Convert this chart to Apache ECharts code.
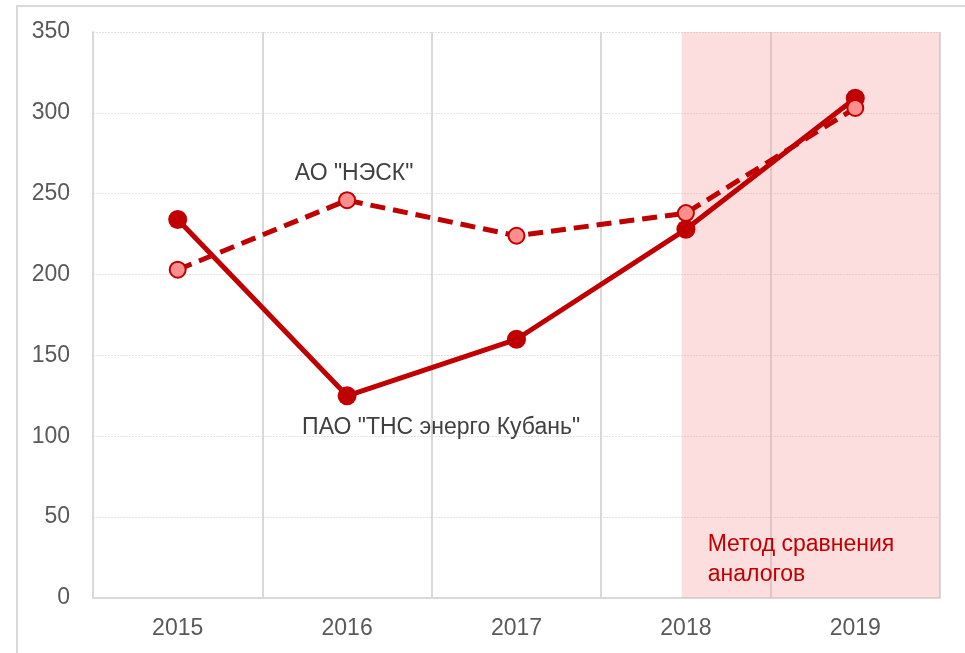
<!DOCTYPE html>
<html>
<head>
<meta charset="utf-8">
<script src="https://cdn.jsdelivr.net/npm/echarts@6/dist/echarts.min.js"></script>
<style>
  html, body {margin: 0; padding: 0; background: #fff;}
  #chart {width: 965px; height: 653px;}
</style>
</head>
<body>
<div id="chart"></div>
<script>
// 数据
const years = ['2015', '2016', '2017', '2018', '2019'];
const tnsValues = [234, 125, 160, 228, 309];   // ПАО "ТНС энерго Кубань"
const neskValues = [203, 246, 224, 238, 303];  // АО "НЭСК"
const yTicks = [0, 50, 100, 150, 200, 250, 300, 350];
// 阴影区 (value 轴上的范围, 类目中心为 0..4)
const analogRange = [2.975, 4.5];
const analogText = 'Метод сравнения\nаналогов';

const red = '#C00000';
const font = 'Liberation Sans';

let chartDom = document.getElementById('chart');
let myChart = echarts.init(chartDom);

let option = {
  animation: false,
  textStyle: {fontFamily: font},
  grid: {left: 93, right: 25, top: 32, bottom: 55},
  graphic: [{
    type: 'rect',
    shape: {x: 17, y: 6, width: 980, height: 680},
    style: {fill: 'none', stroke: '#D9D9D9', lineWidth: 2},
    silent: true
  }],
  xAxis: [
    {
      type: 'category',
      data: years,
      boundaryGap: true,
      axisLine: {show: true, lineStyle: {color: '#D9D9D9', width: 2}},
      axisTick: {show: false},
      axisLabel: {color: '#595959', fontSize: 23, margin: 19},
      splitLine: {show: true, lineStyle: {color: '#D9D9D9', width: 2}}
    },
    {
      type: 'value',
      min: -0.5,
      max: 4.5,
      show: false
    }
  ],
  yAxis: {
    type: 'value',
    min: yTicks[0],
    max: yTicks[yTicks.length - 1],
    interval: 50,
    axisLine: {show: true, onZero: false, lineStyle: {color: '#D9D9D9', width: 2}},
    axisTick: {show: false},
    axisLabel: {color: '#595959', fontSize: 23, margin: 23},
    splitLine: {show: true, lineStyle: {color: '#E3E3E3', width: 1, type: [2, 1]}}
  },
  series: [
    {
      name: 'ПАО "ТНС энерго Кубань"',
      type: 'line',
      z: 3,
      data: tnsValues.map((v, i) => i === 1 ? {
        value: v,
        label: {
          show: true,
          formatter: 'ПАО "ТНС энерго Кубань"',
          position: 'bottom',
          offset: [94, 6],
          color: '#404040',
          fontSize: 23
        }
      } : v),
      lineStyle: {color: red, width: 5},
      itemStyle: {color: red, borderColor: red, borderWidth: 0},
      symbol: 'circle',
      symbolSize: 19
    },
    {
      name: 'АО "НЭСК"',
      type: 'line',
      z: 4,
      data: neskValues.map((v, i) => i === 1 ? {
        value: v,
        label: {
          show: true,
          formatter: 'АО "НЭСК"',
          position: 'top',
          offset: [7, -1],
          color: '#404040',
          fontSize: 23
        }
      } : v),
      lineStyle: {color: red, width: 5, type: [15, 8]},
      itemStyle: {color: '#FF8F8F', borderColor: red, borderWidth: 2},
      symbol: 'circle',
      symbolSize: 16
    },
    {
      type: 'line',
      xAxisIndex: 1,
      z: 10,
      data: [],
      markArea: {
        silent: true,
        itemStyle: {color: 'rgba(248,150,150,0.31)'},
        label: {
          show: true,
          position: 'insideBottomLeft',
          formatter: analogText,
          color: red,
          fontSize: 23,
          lineHeight: 30,
          align: 'left',
          offset: [21, -3]
        },
        data: [[{xAxis: analogRange[0]}, {xAxis: analogRange[1]}]]
      }
    }
  ]
};

option && myChart.setOption(option);
</script>
</body>
</html>
